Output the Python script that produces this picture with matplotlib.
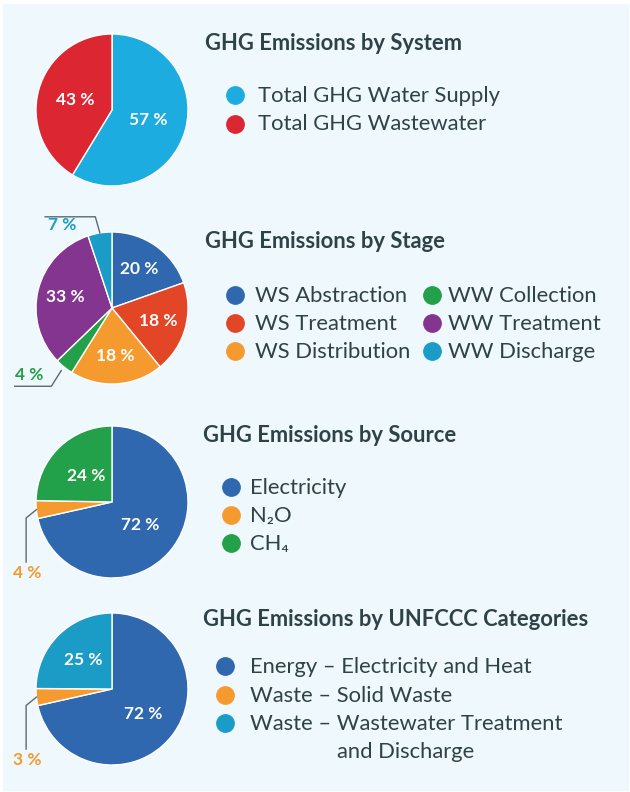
import matplotlib.pyplot as plt
from matplotlib.patches import Rectangle
from matplotlib.lines import Line2D
import numpy as np

plt.rcParams['font.family'] = ['Lato', 'DejaVu Sans']

# wedge sizes as drawn, and the percentages printed on them
system_labels = ['Total GHG Water Supply', 'Total GHG Wastewater']
system_shares = [58.7, 41.3]
system_pct = ['57 %', '43 %']
system_colors = ['#1dace0', '#dc2632']

stage_labels = ['WS Abstraction', 'WS Treatment', 'WS Distribution',
                'WW Collection', 'WW Treatment', 'WW Discharge']
stage_shares = [19.6, 19.5, 19.8, 3.9, 32.1, 5.1]
stage_pct = ['20 %', '18 %', '18 %', '4 %', '33 %', '7 %']
stage_colors = ['#3068b0', '#e34527', '#f59a2e', '#23a04a', '#83358f', '#1a9cc7']

source_labels = ['Electricity', 'N\u2082O', 'CH\u2084']
source_shares = [71.5, 3.8, 24.7]
source_pct = ['72 %', '4 %', '24 %']
source_colors = ['#3068b0', '#f59a2e', '#23a04a']

unfccc_labels = ['Energy \u2013 Electricity and Heat', 'Waste \u2013 Solid Waste',
                 'Waste \u2013 Wastewater Treatment']
unfccc_shares = [71.5, 3.6, 24.9]
unfccc_pct = ['72 %', '3 %', '25 %']
unfccc_colors = ['#3068b0', '#f59a2e', '#1a9cc7']

W, H = 630, 792
R = 76
TXT = '#2f4248'
LEAD = '#5a6a70'
PFS = 12.5

fig = plt.figure(figsize=(W / 100, H / 100), dpi=100)
fig.patch.set_facecolor('white')
fig.patches.append(Rectangle((3 / W, 1 - 790 / H), 625 / W, 786 / H,
                             transform=fig.transFigure, color='#eff8fc', zorder=-5))


def fx(px):
    return px / W


def fy(py):
    return 1 - py / H


def draw_pie(cy, shares, pct, colors, pdist, outside):
    cx = 112
    ax = fig.add_axes([0, fy(cy + 100), 200 / W, 200 / H])
    ax.set_zorder(2)
    ax.patch.set_visible(False)
    wedges, _ = ax.pie(shares, colors=colors, startangle=90, counterclock=False,
                       wedgeprops=dict(edgecolor='white', linewidth=1))
    for i, w in enumerate(wedges):
        ang = np.deg2rad((w.theta1 + w.theta2) / 2)
        ex, ey = np.cos(ang), np.sin(ang)
        if i in outside:
            kind = outside[i]
            if kind == 'top':
                px, py = [ex, ex - 0.06, -0.88], [ey, 1.20, 1.20]
                ax.text(-0.84, 1.09, pct[i], color=colors[i], fontsize=PFS,
                        fontweight='bold', ha='left', va='center')
            elif kind == 'bottom':
                sx, sy = ex * 1.06, ey * 1.06
                px, py = [sx, sx - 0.13, -1.28], [sy, -1.03, -1.03]
                ax.text(-1.28, -0.88, pct[i], color=colors[i], fontsize=PFS,
                        fontweight='bold', ha='left', va='center')
            else:
                px, py = [ex, -1.13, -1.13], [ey, ey - 0.11, -0.79]
                ax.text(-1.11, -0.93, pct[i], color=colors[i], fontsize=PFS,
                        fontweight='bold', ha='center', va='center')
            ax.add_line(Line2D(px, py, color=LEAD, lw=1, clip_on=False))
        else:
            ax.text(pdist * ex, pdist * ey, pct[i], color='white', fontsize=PFS,
                    fontweight='bold', ha='center', va='center')
    ax.set_xlim(-cx / R, (200 - cx) / R)
    ax.set_ylim(-100 / R, 100 / R)
    ax.set_aspect('equal')
    ax.axis('off')


def draw_legend(labels, colors, xm, xt, base0, step=28.5):
    for i, (lab, c) in enumerate(zip(labels, colors)):
        yb = base0 + i * step
        fig.add_artist(Line2D([fx(xm)], [fy(yb - 7)], marker='o', ms=12.5, ls='',
                              color=c, transform=fig.transFigure))
        fig.text(fx(xt), fy(yb), lab, fontsize=15.8, color=TXT, va='baseline')


def title(x, yb, s):
    fig.text(fx(x), fy(yb), s, fontsize=15.8, fontweight='bold', color=TXT, va='baseline')


# System
draw_pie(110, system_shares, system_pct, system_colors, 0.5, {})
title(205, 50, 'GHG Emissions by System')
draw_legend(system_labels, system_colors, 235, 258, 102)

# Stage
draw_pie(308, stage_shares, stage_pct, stage_colors, 0.63, {3: 'bottom', 5: 'top'})
title(205, 248, 'GHG Emissions by Stage')
draw_legend(stage_labels[:3], stage_colors[:3], 235, 255, 302, 28)
draw_legend(stage_labels[3:], stage_colors[3:], 432, 448, 302, 28)

# Source
draw_pie(502, source_shares, source_pct, source_colors, 0.48, {1: 'side'})
title(203, 442, 'GHG Emissions by Source')
draw_legend(source_labels, source_colors, 231, 250, 494, 28)

# UNFCCC
draw_pie(689, unfccc_shares, unfccc_pct, unfccc_colors, 0.53, {1: 'side'})
title(203, 626, 'GHG Emissions by UNFCCC Categories')
draw_legend(unfccc_labels, unfccc_colors, 225, 250, 673, 28.5)
fig.text(fx(406), fy(758), 'and Discharge', fontsize=15.8, color=TXT,
         va='baseline', ha='center')

fig.savefig('out.png', dpi=100, facecolor='white')
